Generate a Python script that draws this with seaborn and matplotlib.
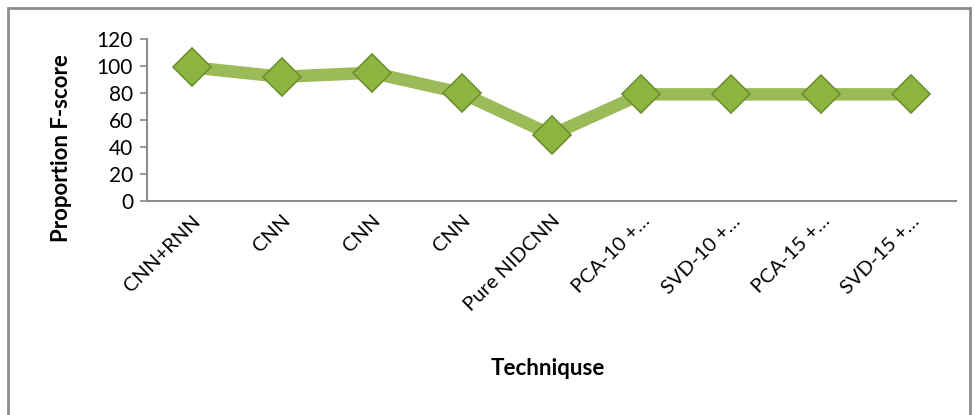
import matplotlib
matplotlib.use("Agg")
import matplotlib.pyplot as plt
import seaborn as sns
import pandas as pd
from matplotlib.patches import Rectangle

categories = ["CNN+RNN", "CNN", "CNN", "CNN", "Pure NIDCNN",
              "PCA-10 +…", "SVD-10 +…", "PCA-15 +…", "SVD-15 +…"]
fscore = [99, 92, 95, 80, 49, 79, 79, 79, 79]
yticks = [0, 20, 40, 60, 80, 100, 120]

sns.set_theme(style="white")
plt.rcParams['font.family'] = ['Lato', 'DejaVu Sans']
plt.rcParams['text.color'] = 'black'
plt.rcParams['xtick.color'] = 'black'
plt.rcParams['ytick.color'] = 'black'
plt.rcParams['axes.labelcolor'] = 'black'

df = pd.DataFrame({"pos": range(len(categories)), "score": fscore})

fig = plt.figure(figsize=(9.74, 4.15), dpi=100)
ax = fig.add_axes([147/974, 1-201/415, (956-147)/974, (201-39)/415])

sns.lineplot(data=df, x="pos", y="score", ax=ax, color="#9BBB59",
             linewidth=9, marker="D", markersize=19,
             markerfacecolor="#8DB640", markeredgecolor="#6E8F2E",
             markeredgewidth=1.2, solid_capstyle="butt")

ax.set_xlim(-0.5, len(categories) - 0.5)
ax.set_ylim(0, 120)
ax.set_yticks(yticks)
ax.set_yticklabels([str(v) for v in yticks], fontsize=15)
ax.set_xticks(range(len(categories)))
ax.set_xticklabels(categories, rotation=45, ha="right", rotation_mode="anchor",
                   fontsize=14.5)
ax.tick_params(axis="y", length=5, width=1.2, color="#888888", left=True, pad=5)
ax.tick_params(axis="x", length=0, pad=8)

for side in ["top", "right"]:
    ax.spines[side].set_visible(False)
for side in ["left", "bottom"]:
    ax.spines[side].set_color("#8c8c8c")
    ax.spines[side].set_linewidth(1.5)

ax.set_xlabel("Techniquse", fontsize=16, fontweight="bold")
ax.set_ylabel("Proportion F-score", fontsize=16, fontweight="bold")
ax.xaxis.set_label_coords((548-147)/(956-147), -(368-201)/(201-39))
ax.yaxis.set_label_coords(-(147-62)/(956-147), (201-148)/(201-39))
ax.xaxis.label.set_va("center")
ax.yaxis.label.set_va("center")

border = Rectangle((8/974, -0.1), (970-8)/974, 1.1 - 8/415, transform=fig.transFigure,
                   fill=False, edgecolor="#8c8c8c", linewidth=2)
fig.patches.append(border)

fig.savefig("out.png", dpi=100)
